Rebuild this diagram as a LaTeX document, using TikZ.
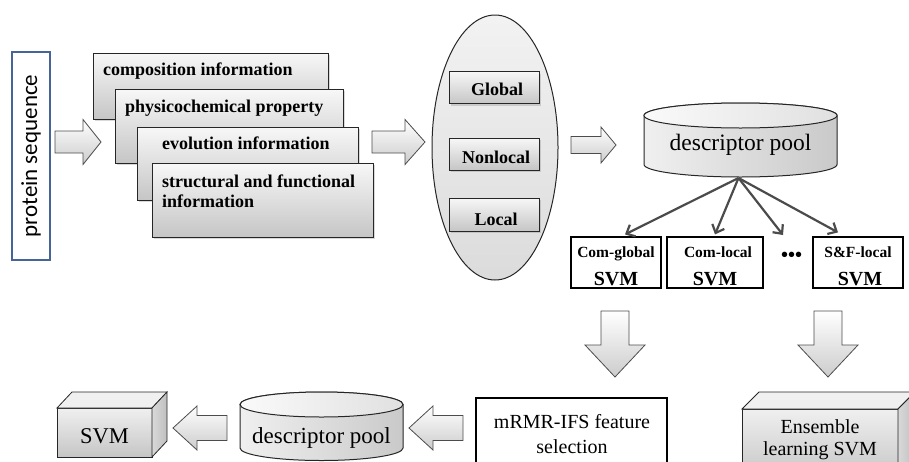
\documentclass[tikz,border=0pt]{standalone}
\usepackage{fontspec}
\setmainfont{Liberation Serif}
\newfontfamily\calib{Carlito}
\usetikzlibrary{shapes.geometric,arrows.meta,calc,shadows}
\definecolor{protblue}{RGB}{70,100,150}
\definecolor{lineg}{RGB}{75,75,75}
\tikzset{
  gbox/.style={draw=black!85, line width=0.8pt, top color=gray!6, bottom color=gray!45,
    rectangle, inner sep=0pt, outer sep=0pt,
    drop shadow={opacity=0.3,shadow xshift=2pt,shadow yshift=-2pt}},
  barrow/.style={draw=black!70, line width=0.8pt, top color=white, bottom color=gray!40},
  btxt/.style={font=\fontsize{18}{21}\selectfont\bfseries, inner sep=0pt},
  rtxt/.style={font=\fontsize{20}{25}\selectfont, inner sep=0pt, align=center},
  svmbox/.style={draw=black, line width=1.2pt, fill=white, rectangle, inner sep=0pt,
    minimum width=90pt, minimum height=51pt},
  conn/.style={draw=lineg, line width=2.2pt, -{Straight Barb[length=7pt,width=13pt]}},
  cylbody/.style={draw=black!85, line width=1pt, left color=gray!12, right color=gray!42},
  cyltop/.style={draw=black!85, line width=1pt, left color=gray!4, right color=gray!24},
  frontface/.style={draw=black!85, line width=0.8pt, top color=gray!12, bottom color=gray!45,
    rectangle, inner sep=0pt, outer sep=0pt},
  topface/.style={draw=black!85, line width=0.8pt, fill=gray!12},
  sideface/.style={draw=black!85, line width=0.8pt, left color=gray!30, right color=gray!50},
  pics/blockarrow/.style n args={4}{code={
    \path[barrow] (0,{-#3/2}) -- ({#1-#4},{-#3/2}) -- ({#1-#4},{-#2/2}) -- (#1,0)
      -- ({#1-#4},{#2/2}) -- ({#1-#4},{#3/2}) -- (0,{#3/2}) -- cycle;}}
}
\begin{document}
\begin{tikzpicture}[x=1pt,y=1pt]
\useasboundingbox (0,0) rectangle (909,-461);
\clip (0,0) rectangle (909,-461);

% protein sequence
\node[draw=protblue, line width=1.5pt, rectangle, inner sep=0pt, minimum width=38pt, minimum height=208pt] (prot) at (31,-156) {};
\node[rotate=90, font=\calib\fontsize{23}{26}\selectfont, inner sep=0pt] (protT) at (prot.center) {protein sequence};

% arrow 1
\pic at (55,-142) {blockarrow={46}{45}{22}{18}};

% stacked boxes
\node[gbox, anchor=north west, minimum width=235pt, minimum height=66pt] (b1) at (93,-53) {};
\node[btxt, anchor=base west] (t1) at (103,-75) {composition information};
\node[gbox, anchor=north west, minimum width=228pt, minimum height=74pt] (b2) at (115,-89) {};
\node[btxt, anchor=base west] (t2) at (125,-112) {physicochemical property};
\node[gbox, anchor=north west, minimum width=221pt, minimum height=73pt] (b3) at (137,-127) {};
\node[btxt, anchor=base west] (t3) at (162,-149) {evolution information};
\node[gbox, anchor=north west, minimum width=221pt, minimum height=74pt] (b4) at (152,-163) {};
\node[btxt, anchor=base west] (t4) at (162,-187) {structural and functional};
\node[btxt, anchor=base west] (t4b) at (162,-207) {information};

% arrow 2
\pic at (372,-142) {blockarrow={53}{45}{22}{20}};

% ellipse
\node[ellipse, draw=black!85, line width=1pt, top color=gray!10, bottom color=gray!28, minimum width=126pt, minimum height=265pt, inner sep=0pt] (ell) at (495,-147.5) {};
\node[gbox, minimum width=90pt, minimum height=32pt] (gl) at (494,-87.5) {};
\node[btxt] (glT) at (497,-95) [anchor=base] {Global};
\node[gbox, minimum width=90pt, minimum height=32pt] (nl) at (494,-154) {};
\node[btxt] (nlT) at (496,-163) [anchor=base] {Nonlocal};
\node[gbox, minimum width=90pt, minimum height=33pt] (lo) at (494,-214.5) {};
\node[btxt] (loT) at (496,-225) [anchor=base] {Local};

% arrow 3
\pic at (571,-145) {blockarrow={45}{36}{17}{15}};

% top descriptor pool
\path[cylbody] (644,-115.5) -- (644,-164.5) arc[start angle=180,end angle=360,x radius=96.5,y radius=12.5]
  -- (837,-115.5) arc[start angle=0,end angle=180,x radius=96.5,y radius=12.5] -- cycle;
\path[cyltop] (740.5,-115.5) ellipse[x radius=96.5,y radius=12.5];
\node[font=\fontsize{23.5}{26}\selectfont, inner sep=0pt, anchor=base] (pool) at (740.5,-150) {descriptor pool};
\coordinate (poolb) at (738.5,-178);

% SVM boxes
\node[svmbox] (cg) at (616,-262.5) {};
\node[font=\fontsize{15.5}{17}\selectfont\bfseries, inner sep=0pt, anchor=base] (cgT) at (616,-257) {Com-global};
\node[font=\fontsize{20}{22}\selectfont\bfseries, inner sep=0pt, anchor=base] (cgS) at (616,-285) {SVM};
\node[svmbox, minimum width=96pt] (cl) at (715,-262.5) {};
\node[font=\fontsize{15.5}{17}\selectfont\bfseries, inner sep=0pt, anchor=base] (clT) at (718,-257) {Com-local};
\node[font=\fontsize{20}{22}\selectfont\bfseries, inner sep=0pt, anchor=base] (clS) at (715,-285) {SVM};
\node[svmbox] (sf) at (858,-262.5) {};
\node[font=\fontsize{15.5}{17}\selectfont\bfseries, inner sep=0pt, anchor=base] (sfT) at (858,-257) {S\&F-local};
\node[font=\fontsize{20}{22}\selectfont\bfseries, inner sep=0pt, anchor=base] (sfS) at (860,-285) {SVM};
\node[font=\fontsize{20}{22}\selectfont\bfseries, inner sep=0pt] (dots) at (791.5,-257) {•••};
\coordinate (dotsin) at (783,-235);

% connectors
\draw[conn] (poolb) -- ($(cg.north)+(9,2)$);
\draw[conn] (poolb) -- ($(cl.north)+(0,2)$);
\draw[conn] (poolb) -- (dotsin);
\draw[conn] (poolb) -- ($(sf.north)+(-20,4)$);

% down arrows
\pic[rotate=-90] at (615,-311) {blockarrow={66}{60}{28}{32}};
\pic[rotate=-90] at (828,-311) {blockarrow={66}{60}{28}{32}};

% mRMR box
\node[draw=black, line width=1.5pt, fill=white, rectangle, inner sep=0pt, minimum width=191pt, minimum height=77pt] (mr) at (571.5,-436.5) {};
\node[rtxt, anchor=base] (mrT) at (572,-428) {mRMR-IFS feature};
\node[rtxt, anchor=base] (mrT2) at (572,-453) {selection};

% Ensemble 3D box
\node[frontface, minimum width=156pt, minimum height=70pt] (en) at (820,-444) {};
\draw[topface] (en.north west) -- ++(17,17) -- ++(156,0) -- (en.north east) -- cycle;
\draw[sideface] (en.north east) -- ++(17,17) -- ++(0,-70) -- (en.south east) -- cycle;
\node[rtxt, anchor=base] (enT) at (820,-433) {Ensemble};
\node[rtxt, anchor=base] (enT2) at (820,-455) {learning SVM};

% left arrows
\pic[rotate=180] at (463,-428) {blockarrow={54}{44}{25}{24}};
\pic[rotate=180] at (227,-428) {blockarrow={54}{44}{25}{24}};

% bottom descriptor pool
\path[cylbody] (240,-404.5) -- (240,-448) arc[start angle=180,end angle=360,x radius=81.5,y radius=12.5]
  -- (403,-404.5) arc[start angle=0,end angle=180,x radius=81.5,y radius=12.5] -- cycle;
\path[cyltop] (321.5,-404.5) ellipse[x radius=81.5,y radius=12.5];
\node[font=\fontsize{23}{26}\selectfont, inner sep=0pt, anchor=base] (pool2) at (321.5,-443) {descriptor pool};

% SVM 3D box
\node[frontface, minimum width=95pt, minimum height=49pt] (sv) at (104.5,-432.5) {};
\draw[topface] (sv.north west) -- ++(15,16) -- ++(95,0) -- (sv.north east) -- cycle;
\draw[sideface] (sv.north east) -- ++(15,16) -- ++(0,-49) -- (sv.south east) -- cycle;
\node[font=\fontsize{22.5}{25}\selectfont, inner sep=0pt, anchor=base] (svT) at (104.5,-443) {SVM};
\end{tikzpicture}
\end{document}
